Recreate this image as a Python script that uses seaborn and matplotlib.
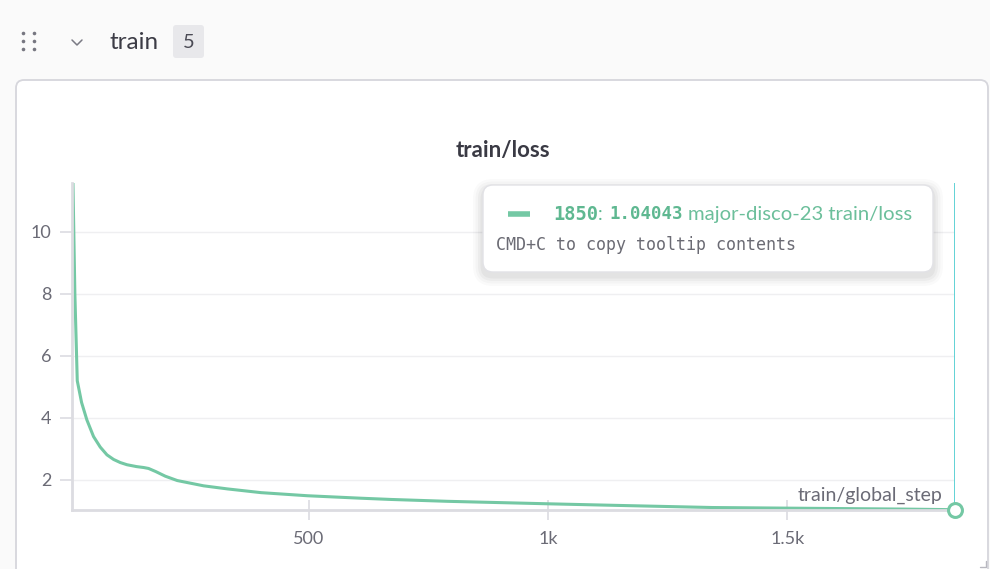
import matplotlib
matplotlib.use("Agg")
import matplotlib.pyplot as plt
import seaborn as sns
import pandas as pd
from matplotlib.patches import FancyBboxPatch

# values
steps = [7, 11, 16, 25, 36, 50, 64, 78, 92, 106, 120, 140, 155, 165, 180, 200,
         225, 280, 330, 400, 497, 609, 672, 790, 1000, 1140, 1343, 1500, 1740, 1850]
loss = [11.6, 8.0, 5.2, 4.5, 3.94, 3.4, 3.06, 2.81, 2.66, 2.56, 2.49, 2.43,
        2.40, 2.37, 2.27, 2.12, 1.98, 1.81, 1.71, 1.59, 1.49, 1.41, 1.37, 1.31,
        1.23, 1.18, 1.11, 1.09, 1.06, 1.04]
yticks = [2, 4, 6, 8, 10]
xticks = [500, 1000, 1500]
xticklabels = ["500", "1k", "1.5k"]
run_name = "major-disco-23"
hover_step = 1850
hover_value = 1.04043

LINE = "#74c8a4"
GRAY = "#6b6b76"
df = pd.DataFrame({"step": steps, "loss": loss})

sns.set_style("white")
plt.rcParams["font.family"] = ["Lato", "DejaVu Sans"]

W, H = 990, 569
fig = plt.figure(figsize=(W / 100, H / 100), dpi=100)
fig.patch.set_facecolor("#fafafa")

# background layer: page header + panel, in pixel coordinates
bg = fig.add_axes([0, 0, 1, 1], zorder=0)
bg.set_xlim(0, W)
bg.set_ylim(H, 0)
bg.axis("off")
bg.add_patch(FancyBboxPatch((16, 80), 972, 520, boxstyle="round,pad=0,rounding_size=8",
                            fc="white", ec="#d6d6dc", lw=1.3))
for cx in (23, 34):
    for cy in (33, 41, 49):
        bg.plot(cx, cy, "o", ms=2.6, color="#767680", mec="none")
bg.plot([72, 77, 82], [40, 45, 40], color="#7a7a84", lw=1.1, solid_capstyle="round")
bg.text(110, 42, "train", fontsize=17.5, color="#3c3c46", va="center", ha="left")
bg.add_patch(FancyBboxPatch((173, 25), 31, 33, boxstyle="round,pad=0,rounding_size=3",
                            fc="#e8e8eb", ec="none"))
bg.text(188.5, 42, "5", fontsize=14.5, color="#4b4b55", va="center", ha="center")
bg.text(503, 150, "train/loss", fontsize=16, fontweight="bold", color="#3a3a44",
        va="center", ha="center")
bg.plot([980, 986, 986], [567, 567, 561], color="#b8b8c0", lw=1)

# main chart
ax = fig.add_axes([72 / W, 1 - 510 / H, (955 - 72) / W, (510 - 183) / H], zorder=1)
ax.patch.set_alpha(0)
sns.lineplot(data=df, x="step", y="loss", ax=ax, color=LINE, lw=2.2)
ax.set_xlim(5, 1850)
ax.set_ylim(1.03, 11.58)
ax.set_yticks(yticks)
ax.set_yticklabels([str(v) for v in yticks])
ax.set_xticks(xticks)
ax.set_xticklabels(xticklabels)
ax.grid(axis="y", color="#efeff1", lw=1)
ax.set_xlabel("")
ax.set_ylabel("")
for s in ("top", "right"):
    ax.spines[s].set_visible(False)
for s in ("left", "bottom"):
    ax.spines[s].set_color("#dcdce1")
    ax.spines[s].set_linewidth(2)
ax.tick_params(axis="y", length=9, width=1.2, color="#dcdce1", labelcolor=GRAY,
               labelsize=13, pad=6, left=True)
ax.tick_params(axis="x", direction="inout", length=14, width=1.2, color="#dcdce1",
               labelcolor=GRAY, labelsize=13, pad=8, bottom=True)
ax.axvline(hover_step, color="#55cfd2", lw=1.3, zorder=3)
ax.plot([hover_step], [hover_value], "o", ms=10, mfc="white", mec=LINE, mew=2.2,
        clip_on=False, zorder=5)

# overlay layer: axis name and tooltip
ov = fig.add_axes([0, 0, 1, 1], zorder=2)
ov.patch.set_alpha(0)
ov.set_xlim(0, W)
ov.set_ylim(H, 0)
ov.axis("off")
ov.text(943, 495, "train/global_step", fontsize=14, color=GRAY, ha="right", va="center")

for i, a in enumerate([0.02, 0.025, 0.03, 0.035]):
    p = 10 - 2.5 * i
    ov.add_patch(FancyBboxPatch((483 - p, 185 - p + 4), 450 + 2 * p, 87 + 2 * p,
                                boxstyle="round,pad=0,rounding_size=%g" % (10 + p),
                                fc="black", ec="none", alpha=a))
ov.add_patch(FancyBboxPatch((483, 185), 450, 87, boxstyle="round,pad=0,rounding_size=10",
                            fc="white", ec="#e2e2e6", lw=1))
ov.plot([508, 530], [214, 214], color=LINE, lw=4, solid_capstyle="butt")
ov.text(553, 214, str(hover_step), fontsize=13.5, family="DejaVu Sans Mono",
        fontweight="bold", color="#5fb891", ha="left", va="center")
ov.text(598, 214, ":", fontsize=13.5, color="#5fb891", ha="left", va="center")
ov.text(609, 214, "%.5f" % hover_value, fontsize=12.5, family="DejaVu Sans Mono",
        fontweight="bold", color="#5fb891", ha="left", va="center")
ov.text(688, 214, run_name + " train/loss", fontsize=14.6, color="#6cbf9b",
        ha="left", va="center")
ov.text(496, 245, "CMD+C to copy tooltip contents", fontsize=12,
        family="DejaVu Sans Mono", color="#6b6b74", ha="left", va="center")

fig.savefig("out.png", dpi=100, facecolor=fig.get_facecolor())
